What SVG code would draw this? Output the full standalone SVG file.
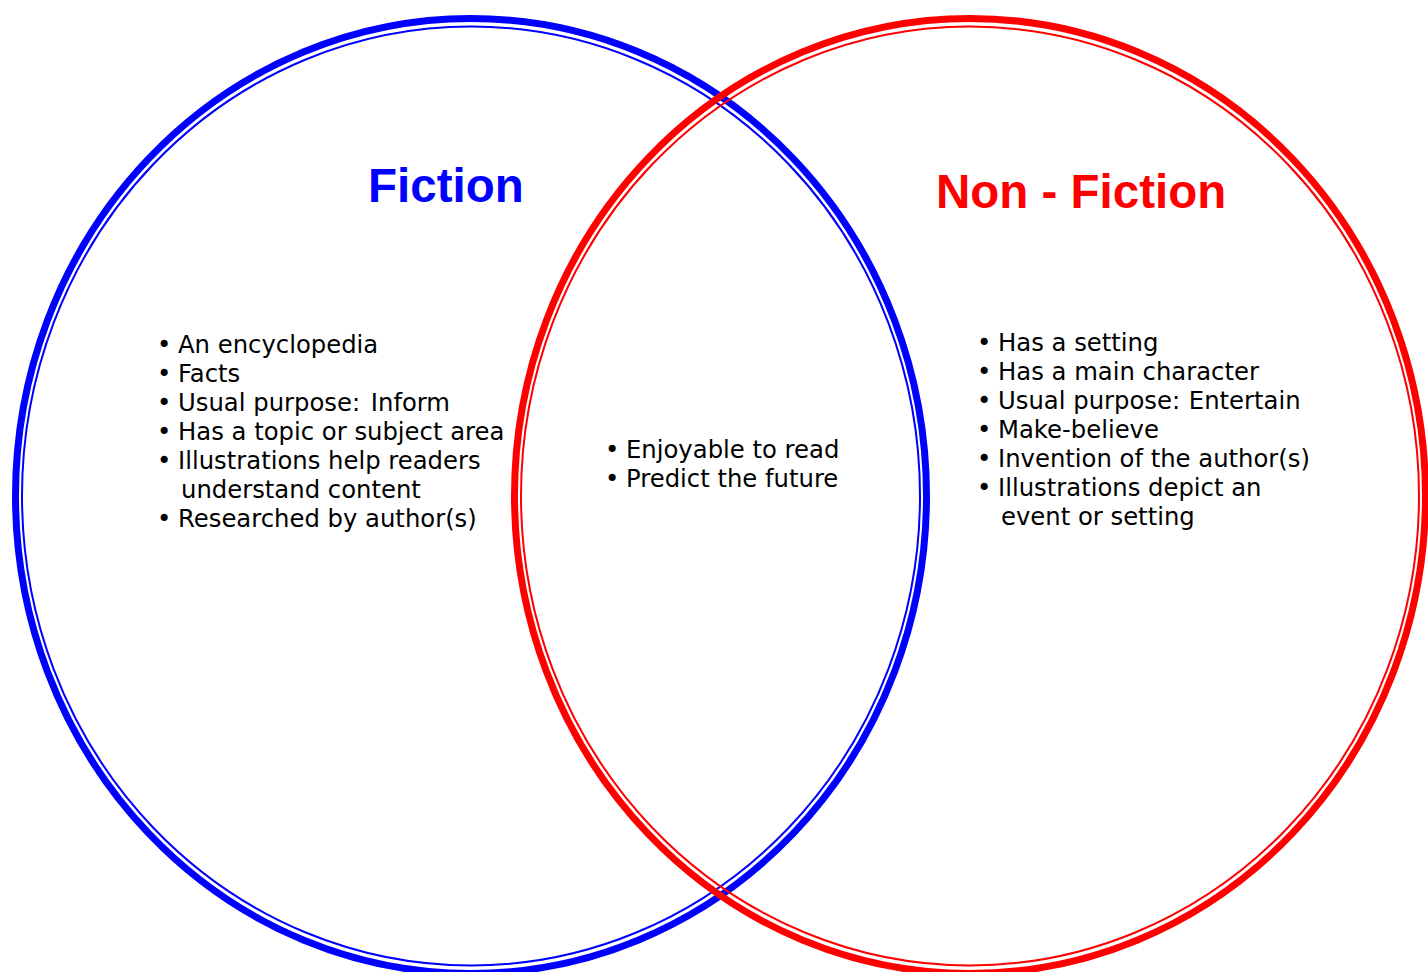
<svg xmlns="http://www.w3.org/2000/svg" width="1428" height="972" viewBox="0 0 1428 972">
<style>
.thick{fill:none;stroke-width:7}
.thin{fill:none;stroke-width:2}
.blue{stroke:#0000ff}
.red{stroke:#ff0000}
.title{font-family:"Liberation Sans",Arial,sans-serif;font-weight:bold;font-size:47.5px}
.body{font-family:"DejaVu Sans",Verdana,sans-serif;font-size:24.3px;fill:#000}
</style>
<rect width="1428" height="972" fill="#fff"/>
<g id="fiction">
<ellipse class="thick blue" cx="471" cy="496" rx="455.5" ry="477.5"/>
<ellipse class="thin blue" cx="471" cy="496" rx="449" ry="469.5"/>
<text class="title" x="368" y="202" fill="#0000ff">Fiction</text>
<g class="body">
<text x="157" y="353">•</text><text x="178" y="353">An encyclopedia</text>
<text x="157" y="382">•</text><text x="178" y="382">Facts</text>
<text x="157" y="411">•</text><text x="178" y="411">Usual purpose: <tspan dx="3">Inform</tspan></text>
<text x="157" y="440">•</text><text x="178" y="440">Has a topic or subject area</text>
<text x="157" y="469">•</text><text x="178" y="469">Illustrations help readers</text>
<text x="181" y="498">understand content</text>
<text x="157" y="527">•</text><text x="178" y="527">Researched by author(s)</text>
</g>
</g>
<g id="nonfiction">
<ellipse class="thick red" cx="970" cy="496" rx="455.5" ry="477.5"/>
<ellipse class="thin red" cx="970" cy="496" rx="449" ry="469.5"/>
<text class="title" x="936" y="208" fill="#ff0000">Non - Fiction</text>
<g class="body">
<text x="977" y="351">•</text><text x="998" y="351">Has a setting</text>
<text x="977" y="380">•</text><text x="998" y="380">Has a main character</text>
<text x="977" y="409">•</text><text x="998" y="409">Usual purpose: <tspan dx="1">Entertain</tspan></text>
<text x="977" y="438">•</text><text x="998" y="438">Make-believe</text>
<text x="977" y="467">•</text><text x="998" y="467">Invention of the author(s)</text>
<text x="977" y="496">•</text><text x="998" y="496">Illustrations depict an</text>
<text x="1001" y="525">event or setting</text>
</g>
</g>
<g id="both" class="body">
<text x="605" y="458">•</text><text x="626" y="458">Enjoyable to read</text>
<text x="605" y="487">•</text><text x="626" y="487">Predict the future</text>
</g>
<g id="connectors"></g>
</svg>
